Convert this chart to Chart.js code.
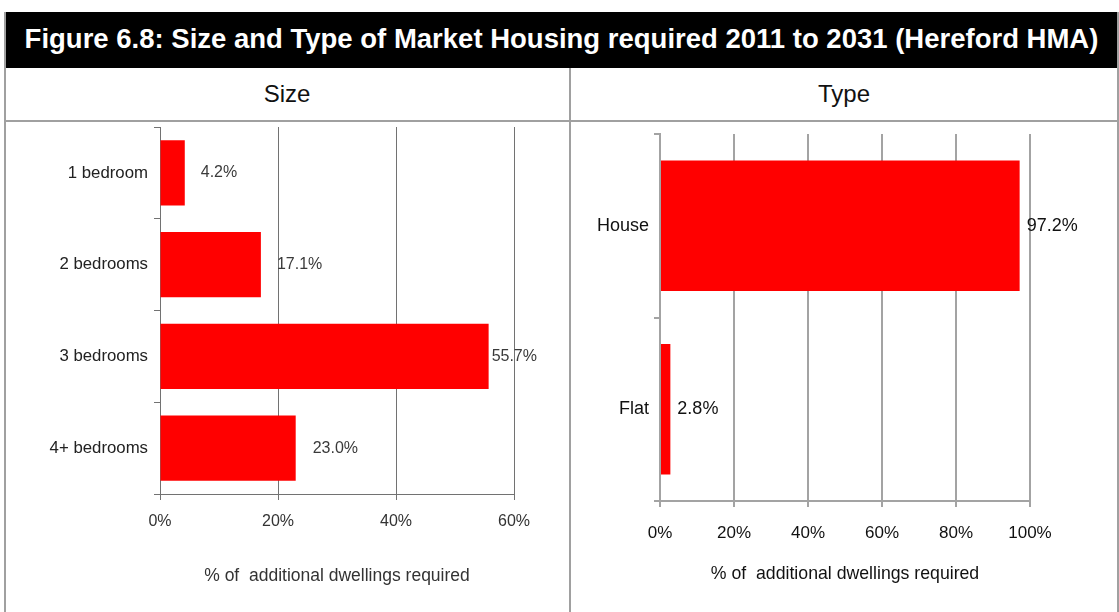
<!DOCTYPE html>
<html>
<head>
<meta charset="utf-8">
<title>Figure 6.8</title>
<script src="https://cdn.jsdelivr.net/npm/chart.js@4.4.1/dist/chart.umd.min.js"></script>
<style>
  html, body { margin: 0; padding: 0; background: #fff; }
  body {
    width: 1119px; height: 612px; position: relative; overflow: hidden;
    font-family: "Liberation Sans", Arial, sans-serif;
  }
  .line { position: absolute; background: #a0a0a0; }
  #title {
    position: absolute; left: 4px; top: 12px; width: 1115px; height: 56px;
    background: #000; color: #fff; font-weight: bold; font-size: 27.5px;
    line-height: 54px; text-align: center; white-space: nowrap;
  }
  .head {
    position: absolute; top: 68px; height: 52px; line-height: 52px;
    text-align: center; font-size: 24px; color: #111;
  }
  canvas { position: absolute; }
</style>
</head>
<body>
<div id="title">Figure 6.8: Size and Type of Market Housing required 2011 to 2031 (Hereford HMA)</div>
<div class="head" style="left:4px;width:566px;">Size</div>
<div class="head" style="left:571px;width:546px;">Type</div>
<div class="line" style="left:4px;top:12px;width:2px;height:600px;"></div>
<div class="line" style="left:569px;top:68px;width:2px;height:544px;"></div>
<div class="line" style="left:1117px;top:12px;width:2px;height:600px;"></div>
<div class="line" style="left:4px;top:120px;width:1115px;height:2px;"></div>
<canvas id="sizeChart" width="563" height="490" style="left:6px;top:122px;"></canvas>
<canvas id="typeChart" width="545" height="490" style="left:572px;top:122px;"></canvas>
<script>
// shares of additional market dwellings, 2011-2031
const sizeLabels = ['1 bedroom', '2 bedrooms', '3 bedrooms', '4+ bedrooms'];
const sizeShares = [4.2, 17.1, 55.7, 23.0];
const typeLabels = ['House', 'Flat'];
const typeShares = [97.2, 2.8];
const sizeTicks = [0, 20, 40, 60];
const typeTicks = [0, 20, 40, 60, 80, 100];
const axisTitle = '% of  additional dwellings required';

const FONT = '"Liberation Sans", Arial, sans-serif';
Chart.defaults.font.family = FONT;

// value label just past the end of each bar
const barLabels = {
  id: 'barLabels',
  afterDatasetsDraw(chart, args, opts) {
    const ctx = chart.ctx;
    const values = chart.data.datasets[0].data;
    ctx.save();
    ctx.font = opts.font;
    ctx.fillStyle = opts.color;
    ctx.textAlign = 'left';
    ctx.textBaseline = 'middle';
    chart.getDatasetMeta(0).data.forEach((bar, i) => {
      const nudge = (opts.nudge && opts.nudge[i]) || 0;
      ctx.fillText(values[i].toFixed(1) + '%', bar.x + opts.offset + nudge, bar.y);
    });
    ctx.restore();
  }
};

function makeChart(id, cfg) {
  return new Chart(document.getElementById(id), {
    type: 'bar',
    data: {
      labels: cfg.labels,
      datasets: [{
        data: cfg.values,
        backgroundColor: '#ff0000',
        borderWidth: 0,
        categoryPercentage: 1,
        barPercentage: 0.71
      }]
    },
    plugins: [barLabels],
    options: {
      indexAxis: 'y',
      responsive: false,
      animation: false,
      layout: { padding: cfg.padding },
      plugins: {
        legend: { display: false },
        tooltip: { enabled: false },
        barLabels: cfg.labelOpts
      },
      scales: {
        x: {
          min: 0,
          max: cfg.ticks[cfg.ticks.length - 1],
          afterBuildTicks: (s) => { s.ticks = cfg.ticks.map((v) => ({ value: v })); },
          ticks: {
            callback: (v) => v + '%',
            font: { size: cfg.tickSize },
            color: cfg.textColor,
            padding: cfg.xTickPad,
            maxRotation: 0
          },
          grid: { color: cfg.gridColor, lineWidth: cfg.gridWidth, tickLength: 6 },
          border: { color: cfg.gridColor, width: cfg.gridWidth },
          title: {
            display: true,
            text: axisTitle,
            font: { size: cfg.titleSize },
            color: cfg.textColor,
            padding: { top: 0, bottom: cfg.titlePad }
          },
          afterFit: (s) => { s.height = cfg.xHeight; }
        },
        y: {
          ticks: { font: { size: cfg.catSize }, color: cfg.catColor, padding: cfg.yTickPad },
          grid: { drawOnChartArea: false, color: cfg.gridColor, lineWidth: cfg.gridWidth, tickLength: 6 },
          border: { color: cfg.gridColor, width: cfg.gridWidth },
          afterFit: (s) => {
            s.width = cfg.yWidth;
            s.paddingTop = 0;
            s.paddingBottom = 0;
          }
        }
      }
    }
  });
}

makeChart('sizeChart', {
  labels: sizeLabels,
  values: sizeShares,
  ticks: sizeTicks,
  padding: { top: 5, right: 55, left: 0, bottom: 0 },
  yWidth: 154,
  xHeight: 118,
  tickSize: 16,
  titleSize: 17.5,
  catSize: 16.8,
  textColor: '#333',
  catColor: '#222',
  gridColor: '#727272',
  gridWidth: 1,
  xTickPad: 12,
  yTickPad: 6,
  titlePad: 25,
  labelOpts: { font: '16px ' + FONT, color: '#3a3a3a', offset: 12, nudge: [4, 4, -9, 5] }
});

makeChart('typeChart', {
  labels: typeLabels,
  values: typeShares,
  ticks: typeTicks,
  padding: { top: 12, right: 87, left: 0, bottom: 0 },
  yWidth: 88,
  xHeight: 111,
  tickSize: 17,
  titleSize: 17.7,
  catSize: 18,
  textColor: '#111',
  catColor: '#111',
  gridColor: '#a3a3a3',
  gridWidth: 2,
  xTickPad: 16,
  yTickPad: 5,
  titlePad: 27,
  labelOpts: { font: '18px ' + FONT, color: '#111', offset: 7 }
});
</script>
</body>
</html>
